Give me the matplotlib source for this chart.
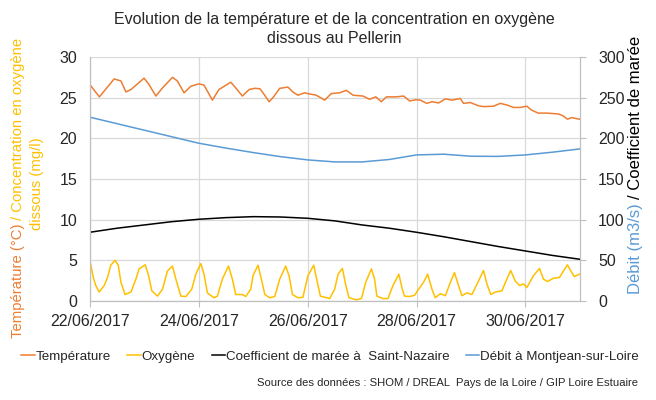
import pandas as pd
import matplotlib
matplotlib.use('Agg')
import matplotlib.pyplot as plt
import matplotlib.dates as mdates

plt.rcParams['font.family'] = ['Liberation Sans Narrow', 'Liberation Sans', 'DejaVu Sans']

# Hours since 22/06/2017 00:00 and readings taken from the chart
temp_hours = [0, 4.2, 10.7, 13.7, 15.9, 18.1, 23.9, 26.1, 29.1, 32.0, 36.4, 38.6, 41.5, 44.5,
              48.1, 50.3, 54.0, 56.9, 62.1, 64.3, 67.2, 70.2, 72.7, 74.9, 76.3, 79.0, 80.7,
              83.7, 87.3, 89.5, 91.7, 94.7, 96.1, 99.8, 103.5, 106.4, 110.1, 113.1, 116.0,
              120.4, 123.3, 126.0, 128.5, 130.7, 135.1, 138.3, 140.9, 143.9, 145.6, 148.5,
              150.8, 153.7, 156.7, 159.6, 163.3, 164.7, 167.7, 171.3, 173.5, 177.9, 180.9,
              183.8, 186.7, 189.7, 192.6, 194.8, 197.7, 201.4, 206.5, 208.7, 210.5, 212.4, 215.8]
temperature = [26.6, 25.1, 27.3, 27.05, 25.7, 26.0, 27.4, 26.6, 25.2, 26.2, 27.5, 27.05, 25.6, 26.4,
               26.7, 26.55, 24.7, 26.0, 26.9, 26.2, 25.2, 26.0, 26.15, 26.1, 25.6, 24.5, 25.0,
               26.15, 26.3, 25.7, 25.3, 25.6, 25.5, 25.3, 24.7, 25.5, 25.6, 25.9, 25.3,
               25.2, 24.8, 25.1, 24.5, 25.1, 25.1, 25.2, 24.6, 24.75, 24.7, 24.3,
               24.5, 24.35, 24.85, 24.7, 24.9, 24.3, 24.4, 24.0, 23.9, 23.95, 24.3,
               24.1, 23.8, 23.8, 23.95, 23.45, 23.1, 23.1, 23.0, 22.75, 22.35, 22.55, 22.35]

oxy_hours = [0, 1.5, 2.6, 4.1, 6.3, 7.8, 9.2, 11.1, 12.5, 13.7, 15.5, 18.1, 20.3, 21.7, 24.4,
             25.9, 27.3, 29.8, 32.0, 34.2, 36.4, 37.9, 40.1, 42.3, 44.9, 46.7, 48.9, 50.3,
             51.8, 54.7, 56.2, 58.4, 61.1, 62.8, 64.3, 67.2, 68.7, 70.9, 71.9, 74.1, 75.6,
             77.1, 79.3, 81.5, 83.7, 86.3, 87.8, 89.3, 91.7, 93.9, 96.1, 98.7, 99.8, 101.6,
             104.5, 105.7, 107.9, 109.4, 111.3, 112.7, 114.2, 117.5, 119.7, 121.6, 124.1,
             125.5, 126.5, 129.2, 131.4, 133.6, 136.2, 137.7, 138.7, 140.9, 143.1, 144.9,
             147.1, 148.9, 150.8, 152.2, 154.5, 156.7, 158.9, 160.7, 162.5, 164.0, 166.2,
             168.4, 171.3, 173.5, 175.0, 176.7, 178.7, 181.6, 183.8, 185.5, 187.5, 189.4,
             191.1, 192.6, 195.5, 198.2, 199.9, 201.7, 204.3, 207.0, 210.5, 212.4, 213.5, 215.8]
oxygen = [5.0, 2.9, 1.9, 1.1, 1.9, 2.9, 4.4, 5.0, 4.4, 2.3, 0.8, 1.1, 2.7, 3.95, 4.45,
          3.1, 1.25, 0.6, 1.45, 3.7, 4.3, 2.7, 0.6, 0.55, 1.45, 3.3, 4.6, 3.3,
          1.0, 0.4, 0.6, 2.7, 4.3, 2.7, 0.8, 0.8, 0.55, 1.45, 3.1, 4.4, 2.7,
          0.8, 0.4, 0.55, 2.7, 4.3, 3.1, 0.8, 0.4, 0.45, 3.1, 4.4, 2.9, 0.6,
          0.4, 0.3, 1.45, 3.3, 4.0, 2.1, 0.4, 0.15, 0.3, 2.3, 3.95,
          2.7, 0.6, 0.3, 0.3, 1.9, 3.3, 1.45, 0.6, 0.55, 0.7, 1.45,
          2.3, 3.3, 1.45, 0.4, 0.9, 0.65, 2.3, 3.5, 1.9, 0.65, 1.0,
          0.8, 2.45, 3.75, 2.1, 0.8, 1.1, 1.25, 2.7, 3.75, 2.45, 1.9,
          2.1, 1.65, 3.1, 4.0, 2.7, 2.4, 2.8, 2.9, 4.45, 3.5, 3.0, 3.3]

# smooth series, read every 12 h
half_days = [0, 12, 24, 36, 48, 60, 72, 84, 96, 108, 120, 132, 144, 156, 168, 180, 192, 204, 216]
coef_maree = [84.5, 89.5, 93.5, 97.5, 100.5, 102.5, 103.7, 103.3, 101.7, 98.5, 93.5,
              89.5, 84.5, 79, 73, 67, 61.5, 56, 51.3]
debit = [226, 218, 210, 202, 194, 188, 182.5, 177.5, 173.5, 171, 171,
         174, 179.6, 180.5, 178, 177.8, 179.6, 183, 187]

t0 = pd.Timestamp('2017-06-22')
def to_dates(h):
    return t0 + pd.to_timedelta(h, unit='h')

ORANGE = '#ED7D31'
GOLD = '#FFC000'
BLUE = '#5B9BD5'
TXT = '#262626'

fig = plt.figure(figsize=(6.56, 4.0), dpi=100)
ax = fig.add_axes([0.137, 0.2475, 0.747, 0.61])
ax2 = ax.twinx()

l1, = ax.plot(to_dates(temp_hours), temperature, color=ORANGE, lw=1.1, label='Température')
l2, = ax.plot(to_dates(oxy_hours), oxygen, color=GOLD, lw=1.1, label='Oxygène')
l3, = ax2.plot(to_dates(half_days), coef_maree, color='black', lw=1.1,
               label='Coefficient de marée à  Saint-Nazaire')
l4, = ax2.plot(to_dates(half_days), debit, color=BLUE, lw=1.1, label='Débit à Montjean-sur-Loire')

ax.set_ylim(0, 30)
ax.set_yticks(range(0, 31, 5))
ax2.set_ylim(0, 300)
ax2.set_yticks(range(0, 301, 50))
ax.set_xlim(t0, pd.Timestamp('2017-07-01'))
ax.set_xticks(pd.date_range('2017-06-22', periods=5, freq='2D'))
ax.xaxis.set_major_formatter(mdates.DateFormatter('%d/%m/%Y'))

ax.grid(True, color='#d9d9d9', lw=0.9)
ax.set_axisbelow(True)
for a in (ax, ax2):
    a.spines['top'].set_visible(False)
    for s in ('left', 'right', 'bottom'):
        a.spines[s].set_color('#bfbfbf')
    a.tick_params(labelsize=11.5, colors=TXT, length=4, color='#bfbfbf')
ax.tick_params(axis='y', length=0, pad=9)
ax.tick_params(axis='x', pad=5)
ax2.tick_params(axis='y', length=4, pad=9)

fig.text(0.51, 0.927, 'Evolution de la température et de la concentration en oxygène\ndissous au Pellerin',
         ha='center', va='center', fontsize=11.5, color=TXT, linespacing=1.3)

renderer = fig.canvas.get_renderer()


def two_color_vtext(x, yc, first, rest, c1, c2, size):
    full = fig.text(0, 0, first + rest, rotation=90, rotation_mode='anchor',
                    ha='left', va='center', fontsize=size)
    length = full.get_window_extent(renderer).height / fig.bbox.height
    full.remove()
    y0 = yc - length / 2
    fig.text(x, y0, first, color=c1, rotation=90, rotation_mode='anchor',
             ha='left', va='center', fontsize=size)
    fig.text(x, y0 + length, rest.lstrip(), color=c2, rotation=90, rotation_mode='anchor',
             ha='right', va='center', fontsize=size)


two_color_vtext(0.027, 0.53, 'Température (°C)', ' / Concentration en oxygène', ORANGE, GOLD, 10.7)
fig.text(0.056, 0.54, 'dissous (mg/l)', color=GOLD, rotation=90, rotation_mode='anchor',
         ha='center', va='center', fontsize=10.7)
two_color_vtext(0.968, 0.5875, 'Débit (m3/s)', ' / Coefficient de marée', BLUE, 'black', 12)

fig.legend(handles=[l1, l2, l3, l4], loc='center', bbox_to_anchor=(0.503, 0.108), ncol=4,
           frameon=False, fontsize=9.6, handlelength=1.0, handletextpad=0.05,
           columnspacing=1.25, labelcolor=TXT)
fig.text(0.973, 0.042, 'Source des données : SHOM / DREAL  Pays de la Loire / GIP Loire Estuaire',
         ha='right', va='center', fontsize=8.1, color=TXT)

fig.savefig('out.png', dpi=100)
